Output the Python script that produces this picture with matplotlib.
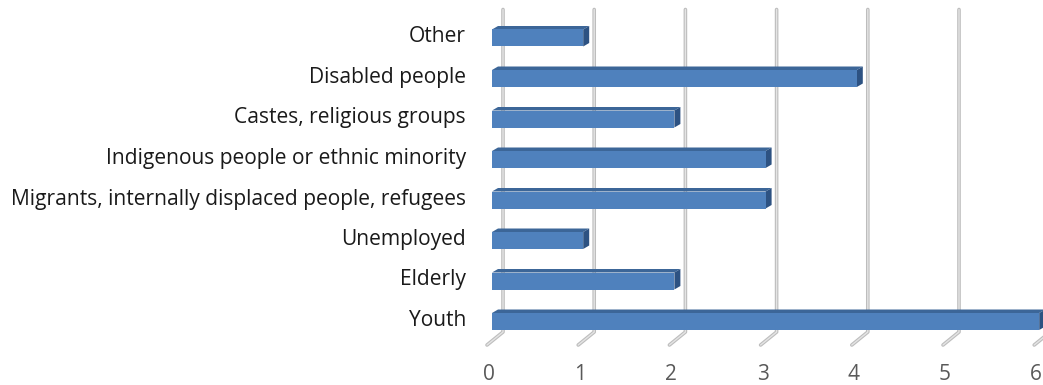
import matplotlib
matplotlib.use("Agg")
import matplotlib.pyplot as plt
from matplotlib.patches import Rectangle, Polygon

categories = ["Youth", "Elderly", "Unemployed",
              "Migrants, internally displaced people, refugees",
              "Indigenous people or ethnic minority",
              "Castes, religious groups", "Disabled people", "Other"]
values = [6, 2, 1, 3, 3, 2, 4, 1]
xticks = [0, 1, 2, 3, 4, 5, 6]

W, H = 1043, 385
fig = plt.figure(figsize=(W / 100, H / 100), dpi=100)
fig.patch.set_facecolor("white")

# pixel geometry of the plotting frame
x0_pix, px_per_unit = 492, 91.2
y0_pix, px_per_cat = 321.5, 40.5
ylo, yhi = -0.7, 7.75
bot_pix = y0_pix - ylo * px_per_cat
top_pix = y0_pix - yhi * px_per_cat
ax = fig.add_axes([x0_pix / W, (H - bot_pix) / H,
                   6 * px_per_unit / W, (bot_pix - top_pix) / H])
ax.set_xlim(0, 6)
ax.set_ylim(ylo, yhi)
ax.axis("off")

ux = 1 / px_per_unit   # one pixel in x data units
uy = 1 / px_per_cat    # one pixel in y data units

# back-wall gridlines with floor diagonals
wall_dx = 11 * ux
grid_top = (y0_pix - 9.5) * uy
back_bot = -10.5 * uy
front_bot = -23.5 * uy
for v in xticks:
    xs = [v - 5 * ux, v + wall_dx, v + wall_dx]
    ys = [front_bot, back_bot, grid_top]
    ax.plot(xs, ys, color="#bdbdbd", lw=2.6, solid_capstyle="round",
            solid_joinstyle="round", zorder=1, clip_on=False)
    ax.plot(xs, ys, color="#e4e4e4", lw=1.0, solid_capstyle="round",
            solid_joinstyle="round", zorder=1.1, clip_on=False)
    ax.text(v - 3 * ux, (y0_pix - 375) * uy, str(v), ha="center", va="center",
            fontsize=15, color="#595959", family="Open Sans")

# 3D bars
bh = 17 * uy        # front face height
ddx, ddy = 6 * ux, 3.5 * uy
front_c = "#4f81bd"
top_c = "#3c6698"
side_c = "#2d5282"
for i, (cat, val) in enumerate(zip(categories, values)):
    yb = i - bh / 2
    yt = i + bh / 2
    ax.add_patch(Polygon([(0, yt), (val, yt), (val + ddx, yt + ddy), (ddx, yt + ddy)],
                         closed=True, facecolor=top_c, edgecolor="none", zorder=3, clip_on=False))
    ax.add_patch(Polygon([(val, yb), (val + ddx, yb + ddy), (val + ddx, yt + ddy), (val, yt)],
                         closed=True, facecolor=side_c, edgecolor="none", zorder=3, clip_on=False))
    ax.add_patch(Rectangle((0, yb), val, bh, facecolor=front_c, edgecolor="none",
                           zorder=4, clip_on=False))
    ax.text(-26 * ux, i + 1 * uy, cat, ha="right", va="center", fontsize=15.1,
            color="#1a1a1a", family="Open Sans")

fig.savefig("out.png", dpi=100, facecolor="white")
